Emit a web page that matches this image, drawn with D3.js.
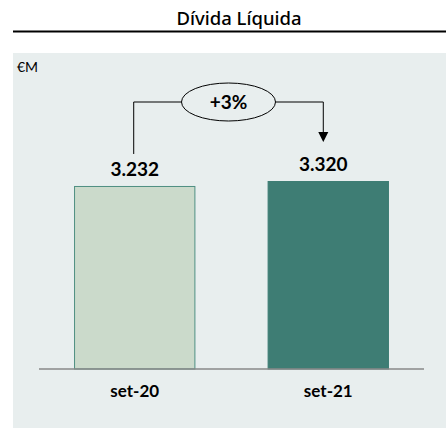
<!DOCTYPE html>
<html>
<head>
<meta charset="utf-8">
<script src="https://cdn.jsdelivr.net/npm/d3@7"></script>
<style>
  body { margin: 0; background: #fff; }
  text { font-family: Lato, "Noto Sans", sans-serif; }
</style>
</head>
<body>
<div id="chart"></div>
<script>
// data
var categories = ["set-20", "set-21"];
var values = [3232, 3320];
var valueLabels = ["3.232", "3.320"];
var changeLabel = "+3%";
var title = "Dívida Líquida";
var unit = "€M";

var width = 446, height = 429;

var svg = d3.select("#chart").append("svg")
    .attr("width", width)
    .attr("height", height);

// title + underline
svg.append("text")
    .attr("x", 239).attr("y", 25)
    .attr("text-anchor", "middle")
    .style("font-family", "'Noto Sans', sans-serif")
    .style("font-weight", 500)
    .style("font-size", "18.5px")
    .text(title);
svg.append("line")
    .attr("x1", 13).attr("x2", 446)
    .attr("y1", 31.5).attr("y2", 31.5)
    .attr("stroke", "#000").attr("stroke-width", 2);

// panel
svg.append("rect")
    .attr("x", 13).attr("y", 53)
    .attr("width", 433).attr("height", 375)
    .attr("fill", "#e8eeee");

svg.append("text")
    .attr("x", 17).attr("y", 72)
    .style("font-size", "14px")
    .text(unit);

var x = d3.scaleBand()
    .domain(categories)
    .range([39, 424])
    .paddingInner(0.373)
    .paddingOuter(0.181);

var y = d3.scaleLinear()
    .domain([0, 3320])
    .range([369, 181]);

var fills = ["#cbdacb", "#3e7d74"];
var strokes = ["#4f8f82", "#3e7d74"];
// value labels / arrow sit a little left of the second bar's centre
var labelShift = [0, -5];

svg.selectAll(".bar")
    .data(values)
    .enter().append("rect")
    .attr("class", "bar")
    .attr("x", function(d, i) { return x(categories[i]) + 0.5; })
    .attr("y", function(d) { return y(d) + 0.5; })
    .attr("width", x.bandwidth() - 1)
    .attr("height", function(d) { return y(0) - y(d) - 0.5; })
    .attr("fill", function(d, i) { return fills[i]; })
    .attr("stroke", function(d, i) { return strokes[i]; })
    .attr("stroke-width", 1);

// value labels
svg.selectAll(".val")
    .data(values)
    .enter().append("text")
    .attr("class", "val")
    .attr("x", function(d, i) { return x(categories[i]) + x.bandwidth() / 2 + labelShift[i]; })
    .attr("y", function(d) { return y(d) - 10; })
    .attr("text-anchor", "middle")
    .style("font-size", "19px")
    .style("font-weight", 700)
    .text(function(d, i) { return valueLabels[i]; });

// axis line
svg.append("line")
    .attr("x1", 39).attr("x2", 424)
    .attr("y1", y(0)).attr("y2", y(0))
    .attr("stroke", "#888").attr("stroke-width", 1.5);

// category labels
svg.selectAll(".cat")
    .data(categories)
    .enter().append("text")
    .attr("class", "cat")
    .attr("x", function(d) { return x(d) + x.bandwidth() / 2; })
    .attr("y", 397)
    .attr("text-anchor", "middle")
    .style("font-size", "17px")
    .style("font-weight", 700)
    .text(function(d) { return d; });

// change bracket
var cx0 = x(categories[0]) + x.bandwidth() / 2 - 1,
    cx1 = x(categories[1]) + x.bandwidth() / 2 + labelShift[1],
    by = 102, ex = (cx0 + cx1) / 2, rx = 47, ry = 19;

svg.append("path")
    .attr("d", "M" + cx0 + "," + (y(values[0]) - 32) + "V" + by + "H" + (ex - rx))
    .attr("fill", "none").attr("stroke", "#000").attr("stroke-width", 1);
svg.append("path")
    .attr("d", "M" + (ex + rx) + "," + by + "H" + cx1 + "V" + (y(values[1]) - 49))
    .attr("fill", "none").attr("stroke", "#000").attr("stroke-width", 1);
var tip = y(values[1]) - 39;
svg.append("path")
    .attr("d", "M" + (cx1 - 5) + "," + (tip - 10) + "L" + (cx1 + 5) + "," + (tip - 10) + "L" + cx1 + "," + tip + "Z")
    .attr("fill", "#000");

svg.append("ellipse")
    .attr("cx", ex).attr("cy", by)
    .attr("rx", rx).attr("ry", ry)
    .attr("fill", "#e8eeee").attr("stroke", "#000").attr("stroke-width", 1);
svg.append("text")
    .attr("x", ex).attr("y", by + 6.5)
    .attr("text-anchor", "middle")
    .style("font-size", "19px")
    .style("font-weight", 700)
    .text(changeLabel);
</script>
</body>
</html>
